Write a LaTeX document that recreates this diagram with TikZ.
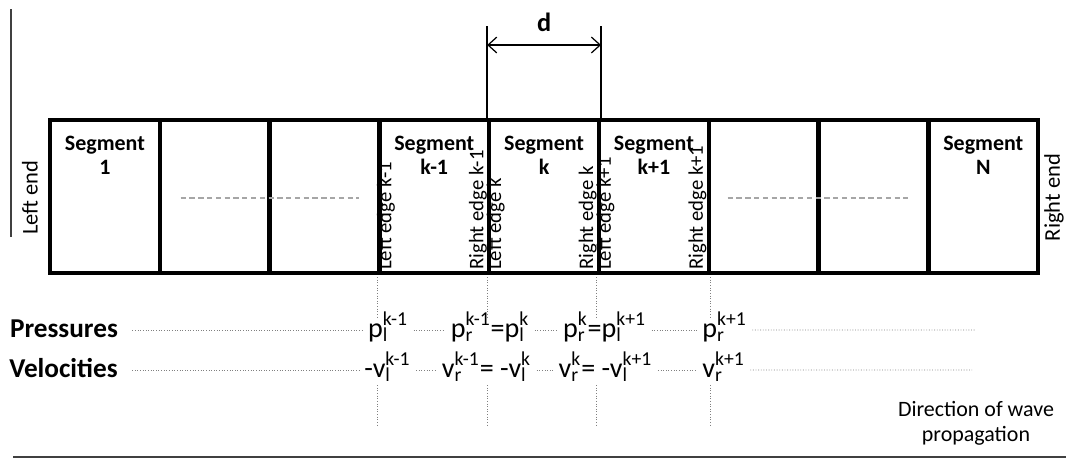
\documentclass[tikz,border=0pt]{standalone}
\usepackage{fontspec}
\setmainfont{Carlito}
\usetikzlibrary{arrows.meta, positioning, calc}
\newcommand{\sbsp}[3]{#1\rlap{\textsubscript{#2}}\textsuperscript{#3}}

\begin{document}
\begin{tikzpicture}[
        x=0.02cm, y=-0.02cm,
        cell/.style={draw, line width=2.4pt, minimum width=2.196cm, minimum height=3.06cm, inner sep=0pt},
        seg/.style={font=\fontsize{12.5}{13.6}\selectfont\bfseries, align=center, inner sep=0pt},
        edgetxt/.style={font=\fontsize{11.8}{13}\selectfont, rotate=90, anchor=base west, inner sep=0pt},
        endtxt/.style={font=\fontsize{12.8}{15}\selectfont, rotate=90, inner sep=0pt},
        rowhead/.style={font=\fontsize{15.5}{18}\selectfont\bfseries, text height=12pt, text depth=4pt, inner xsep=8pt, anchor=base},
        val/.style={font=\fontsize{16}{19}\selectfont, text height=12pt, text depth=4pt, inner xsep=3pt, anchor=base},
        dotrule/.style={gray, densely dotted, line width=0.5pt},
        guideline/.style={gray!70, dash pattern=on 3pt off 2pt, line width=0.6pt},
        dimline/.style={line width=0.7pt},
        frameline/.style={black!75, line width=0.9pt},
        barb/.style={{Straight Barb[length=5pt, width=9pt]}-{Straight Barb[length=5pt, width=9pt]}}
      ]
        \useasboundingbox (0,0) rectangle (1066,461);

        % segments
        \foreach \i in {1,...,9}
          \node[cell] (c\i) at ({50+109.8*(\i-0.5)}, 196.5) {};

        \node[seg, below=0.35cm of c1.north] (s1) {Segment\\1};
        \node[seg, below=0.35cm of c4.north] (s4) {Segment\\k-1};
        \node[seg, below=0.35cm of c5.north] (s5) {Segment\\k};
        \node[seg, below=0.35cm of c6.north] (s6) {Segment\\k+1};
        \node[seg, below=0.35cm of c9.north] (s9) {Segment\\N};

        \node[edgetxt] (le4) at ($(c4.south west)+(14,-5)$) {Left edge k-1};
        \node[edgetxt] (re4) at ($(c4.south east)+(-8,-5)$) {Right edge k-1};
        \node[edgetxt] (le5) at ($(c5.south west)+(14,-5)$) {Left edge k};
        \node[edgetxt] (re5) at ($(c5.south east)+(-8,-5)$) {Right edge k};
        \node[edgetxt] (le6) at ($(c6.south west)+(14,-5)$) {Left edge k+1};
        \node[edgetxt] (re6) at ($(c6.south east)+(-8,-5)$) {Right edge k+1};

        \draw[guideline] ($(c2.west)+(23,1.5)$) -- ($(c3.east)+(-22,1.5)$);
        \draw[guideline] ($(c7.west)+(21,1.5)$) -- ($(c8.east)+(-23,1.5)$);

        \node[endtxt] (lend) at (30,197.5) {Left end};
        \node[endtxt] (rend) at (1054,197.5) {Right end};
        \draw[frameline] (11,9) -- (11,237);

        % segment length d
        \draw[dimline] (c5.north west) -- ++(0,-92);
        \draw[dimline] (c5.north east) -- ++(0,-92);
        \coordinate (dl) at (c5.north west |- 0,45);
        \coordinate (dr) at (c5.north east |- 0,45);
        \draw[dimline, barb] (dl) -- (dr);
        \node[font=\fontsize{15}{18}\selectfont\bfseries, inner sep=0pt] (dlab) at ($(dl)!0.5!(dr)+(0,-23)$) {d};

        % edge guides
        \foreach \a in {c4.south west, c5.south west, c6.south west, c6.south east} {
          \draw[dotrule] (\a) ++(0,2) -- ++(0,41);
          \draw[dotrule] (\a) ++(0,110) -- ++(0,41);
        }

        % boundary values
        \node[rowhead] (pres) at (64,337) {Pressures};
        \node[val] (p1) at (388,337) {\sbsp{p}{l}{k-1}};
        \node[val] (p2) at (490,337) {\sbsp{p}{r}{k-1}=\sbsp{p}{l}{k}};
        \node[val] (p3) at (604.5,337) {\sbsp{p}{r}{k}=\sbsp{p}{l}{k+1}};
        \node[val] (p4) at (724.5,337) {\sbsp{p}{r}{k+1}};
        \coordinate (pend) at (975,330);

        \node[rowhead] (velo) at (63.5,377) {Velocities};
        \node[val] (v1) at (387.5,377) {-\sbsp{v}{l}{k-1}};
        \node[val] (v2) at (486.5,377) {\sbsp{v}{r}{k-1}= -\sbsp{v}{l}{k}};
        \node[val] (v3) at (605.5,377) {\sbsp{v}{r}{k}= -\sbsp{v}{l}{k+1}};
        \node[val] (v4) at (723.5,377) {\sbsp{v}{r}{k+1}};
        \coordinate (vend) at (972,370);

        \foreach \u/\v in {pres/p1, p1/p2, p2/p3, p3/p4, p4/pend, velo/v1, v1/v2, v2/v3, v3/v4, v4/vend}
          \draw[dotrule] (\u) -- (\v);

        \node[font=\fontsize{12.5}{14}\selectfont, align=center, anchor=north, inner sep=0pt] (dir) at (976,401) {Direction of wave\\propagation};
        \draw[frameline, line width=1.2pt] (13,457) -- (1066,457);
      \end{tikzpicture}
\end{document}
